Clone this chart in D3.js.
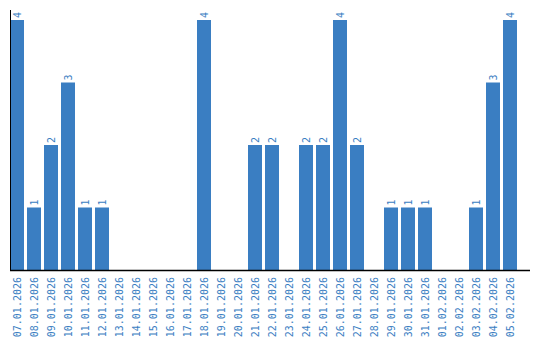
<!DOCTYPE html>
<html><head><meta charset="utf-8">
<script src="https://cdn.jsdelivr.net/npm/d3@7/dist/d3.min.js"></script>
<style>body{margin:0;background:#fff}svg{display:block}</style>
</head><body>
<svg id="c" width="540" height="340"></svg>
<script>
const dates = ["07.01.2026","08.01.2026","09.01.2026","10.01.2026","11.01.2026","12.01.2026","13.01.2026","14.01.2026","15.01.2026","16.01.2026","17.01.2026","18.01.2026","19.01.2026","20.01.2026","21.01.2026","22.01.2026","23.01.2026","24.01.2026","25.01.2026","26.01.2026","27.01.2026","28.01.2026","29.01.2026","30.01.2026","31.01.2026","01.02.2026","02.02.2026","03.02.2026","04.02.2026","05.02.2026"];
const counts = [4,1,2,3,1,1,0,0,0,0,0,4,0,0,2,2,0,2,2,4,2,0,1,1,1,0,0,1,3,4];

(function(){
const color = "#3a7ec2";
const font = "'DejaVu Sans Mono', monospace";
const svg = d3.select("#c");
const mLeft = 10, mTop = 10, mBottom = 270, axisRight = 530;

const x = d3.scaleBand().domain(dates).range([mLeft, 517]).paddingInner(3/17).paddingOuter(0);
const y = d3.scaleLinear().domain([0, d3.max(counts) * 1.04]).range([mBottom, mTop]);

const data = dates.map((d, i) => ({d, v: counts[i]}));

svg.append("g").selectAll("rect").data(data.filter(e => e.v > 0)).join("rect")
  .attr("x", e => x(e.d)).attr("width", x.bandwidth())
  .attr("y", e => y(e.v)).attr("height", e => y(0) - y(e.v))
  .attr("fill", color);

svg.append("g").selectAll("text").data(data.filter(e => e.v > 0)).join("text")
  .attr("transform", e => `translate(${x(e.d) + x.bandwidth()/2},${y(e.v) - 2}) rotate(-90)`)
  .attr("dy", "0.35em")
  .attr("text-anchor", "start")
  .attr("font-family", font).attr("font-size", 10).attr("fill", color)
  .text(e => e.v);

const xAxis = d3.axisBottom(x).tickSize(0).tickPadding(0);
const gx = svg.append("g").attr("transform", `translate(0,${mBottom})`).call(xAxis);
gx.select(".domain").remove();
gx.selectAll("text")
  .attr("transform", "translate(0,7) rotate(-90)")
  .attr("x", 0).attr("y", 0).attr("dy", "0.35em")
  .attr("text-anchor", "end")
  .attr("font-family", font).attr("font-size", 10).attr("fill", color);

svg.append("line").attr("x1", mLeft).attr("x2", axisRight).attr("y1", mBottom + 0.5).attr("y2", mBottom + 0.5)
  .attr("stroke", "#000").attr("stroke-width", 1.5);
svg.append("line").attr("x1", mLeft + 0.5).attr("x2", mLeft + 0.5).attr("y1", mTop).attr("y2", mBottom)
  .attr("stroke", "#000").attr("stroke-width", 1);
})();
</script>
</body></html>
